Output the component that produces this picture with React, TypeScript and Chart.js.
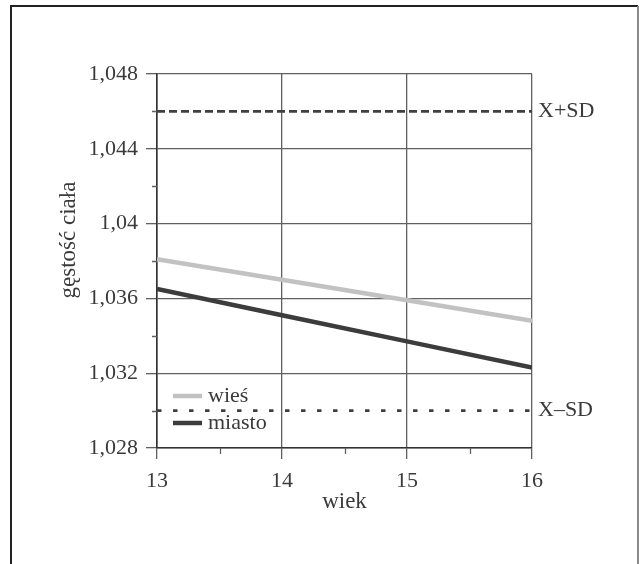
import React, { useEffect, useRef } from "react";
import { Chart, registerables } from "chart.js";

Chart.register(...registerables);

// ---- data ----
const ages = [13, 14, 15, 16];
const wiesValues = [1.0381, 1.037, 1.0359, 1.0348];
const miastoValues = [1.0365, 1.0351, 1.0337, 1.0323];
const plusSD = 1.046;
const minusSD = 1.03;
const seriesNames = ["wieś", "miasto"];
const sdLabels = ["X+SD", "X–SD"];
const yTicks = [1.048, 1.044, 1.04, 1.036, 1.032, 1.028];
const yTickLabels = ["1,048", "1,044", "1,04", "1,036", "1,032", "1,028"];
const yMinorTicks = [1.046, 1.042, 1.038, 1.034, 1.03];
const xTicks = [13, 14, 15, 16];
const xTickLabels = ["13", "14", "15", "16"];
const xMinorTicks = [13.5, 14.5, 15.5];
const xTitle = "wiek";
const yTitle = "gęstość ciała";

const FONT = "'Liberation Serif', 'Times New Roman', serif";
const TEXT = "#3a3a3a";
const GRID = "#606060";
const AXIS = "#333333";

const framePlugin = {
  id: "frame",
  beforeDraw(chart: any) {
    const { ctx, width, height } = chart;
    ctx.save();
    ctx.fillStyle = "#ffffff";
    ctx.fillRect(0, 0, width, height);
    ctx.lineWidth = 2;
    ctx.strokeStyle = "#222222";
    ctx.beginPath();
    ctx.moveTo(11, height);
    ctx.lineTo(11, 6);
    ctx.lineTo(638, 6);
    ctx.stroke();
    ctx.strokeStyle = "#8a8a8a";
    ctx.beginPath();
    ctx.moveTo(638, 6);
    ctx.lineTo(638, height);
    ctx.stroke();
    ctx.restore();
  },
};

const extrasPlugin = {
  id: "extras",
  afterDatasetsDraw(chart: any) {
    const { ctx, chartArea, scales } = chart;
    const xs = scales.x;
    const ys = scales.y;
    ctx.save();
    // minor ticks
    ctx.strokeStyle = GRID;
    ctx.lineWidth = 1.3;
    ctx.beginPath();
    yMinorTicks.forEach((v) => {
      const py = Math.round(ys.getPixelForValue(v)) + 0.5;
      ctx.moveTo(chartArea.left - 5, py);
      ctx.lineTo(chartArea.left, py);
    });
    xMinorTicks.forEach((v) => {
      const px = Math.round(xs.getPixelForValue(v)) + 0.5;
      ctx.moveTo(px, chartArea.bottom);
      ctx.lineTo(px, chartArea.bottom + 6);
    });
    ctx.stroke();

    // y title
    ctx.fillStyle = TEXT;
    ctx.font = `23px ${FONT}`;
    ctx.textAlign = "center";
    ctx.textBaseline = "middle";
    ctx.translate(69, 240);
    ctx.rotate(-Math.PI / 2);
    ctx.fillText(yTitle, 0, 0);
    ctx.setTransform(1, 0, 0, 1, 0, 0);

    // legend
    const series = chart.data.datasets.filter((d: any) => !d.isReference);
    ctx.font = `22px ${FONT}`;
    ctx.textAlign = "left";
    ctx.textBaseline = "middle";
    series.forEach((d: any, i: number) => {
      const y = chartArea.bottom - 52 + i * 27;
      ctx.strokeStyle = d.borderColor;
      ctx.lineWidth = 4.5;
      ctx.beginPath();
      ctx.moveTo(chartArea.left + 16, y);
      ctx.lineTo(chartArea.left + 45, y);
      ctx.stroke();
      ctx.fillStyle = TEXT;
      ctx.fillText(d.label, chartArea.left + 51, y);
    });
    ctx.restore();
  },
};

export default function App() {
  const ref = useRef<HTMLCanvasElement | null>(null);

  useEffect(() => {
    if (!ref.current) return;
    const chart = new Chart(ref.current, {
      type: "line",
      data: {
        datasets: [
          {
            label: sdLabels[0],
            isReference: true,
            data: [
              { x: ages[0], y: plusSD },
              { x: ages[ages.length - 1], y: plusSD },
            ],
            borderColor: "#404040",
            borderWidth: 2.6,
            borderDash: [8, 4],
            pointRadius: 0,
          },
          {
            label: sdLabels[1],
            isReference: true,
            data: [
              { x: ages[0], y: minusSD },
              { x: ages[ages.length - 1], y: minusSD },
            ],
            borderColor: "#404040",
            borderWidth: 2.6,
            borderDash: [4.5, 11.5],
            pointRadius: 0,
          },
          {
            label: seriesNames[0],
            data: ages.map((a, i) => ({ x: a, y: wiesValues[i] })),
            borderColor: "#c2c2c2",
            borderWidth: 4.5,
            pointRadius: 0,
            tension: 0,
          },
          {
            label: seriesNames[1],
            data: ages.map((a, i) => ({ x: a, y: miastoValues[i] })),
            borderColor: "#3c3c3c",
            borderWidth: 4.5,
            pointRadius: 0,
            tension: 0,
          },
        ] as any,
      },
      options: {
        animation: false,
        responsive: false,
        devicePixelRatio: 1,
        layout: { padding: { top: 74, left: 0, right: 8, bottom: 0 } },
        plugins: {
          legend: { display: false },
          tooltip: { enabled: false },
        },
        scales: {
          x: {
            type: "linear",
            min: 13,
            max: 16,
            afterBuildTicks: (s: any) => {
              s.ticks = xTicks.map((v) => ({ value: v }));
            },
            afterFit: (s: any) => {
              s.height = 116;
            },
            ticks: {
              padding: 9,
              color: TEXT,
              font: { family: FONT, size: 22 },
              callback: (_v: any, i: number) => xTickLabels[i],
            },
            grid: { color: GRID, lineWidth: 1.3, tickLength: 11, tickColor: GRID },
            border: { color: AXIS, width: 1.6 },
            title: {
              display: true,
              text: xTitle,
              color: TEXT,
              font: { family: FONT, size: 23 },
              padding: { top: 0, bottom: 48 },
            },
          },
          y: {
            type: "linear",
            position: "left",
            min: 1.028,
            max: 1.048,
            afterBuildTicks: (s: any) => {
              s.ticks = yTicks.map((v) => ({ value: v }));
            },
            afterFit: (s: any) => {
              s.width = 157;
            },
            ticks: {
              padding: 8,
              color: TEXT,
              font: { family: FONT, size: 22 },
              callback: (_v: any, i: number) => yTickLabels[i],
            },
            grid: { color: GRID, lineWidth: 1.3, tickLength: 11, tickColor: GRID },
            border: { color: AXIS, width: 1.6 },
          },
          y2: {
            type: "linear",
            position: "right",
            min: 1.028,
            max: 1.048,
            afterBuildTicks: (s: any) => {
              s.ticks = [plusSD, minusSD].map((v) => ({ value: v }));
            },
            afterFit: (s: any) => {
              s.width = 100;
            },
            ticks: {
              padding: 6,
              color: TEXT,
              font: { family: FONT, size: 22 },
              callback: (_v: any, i: number) => sdLabels[i],
            },
            grid: { display: false, drawTicks: false },
            border: { display: false },
          },
        },
      } as any,
      plugins: [framePlugin, extrasPlugin],
    });
    return () => chart.destroy();
  }, []);

  return (
    <canvas
      ref={ref}
      width={640}
      height={564}
      style={{ position: "absolute", left: 0, top: 0, width: 640, height: 564, display: "block" }}
    />
  );
}
